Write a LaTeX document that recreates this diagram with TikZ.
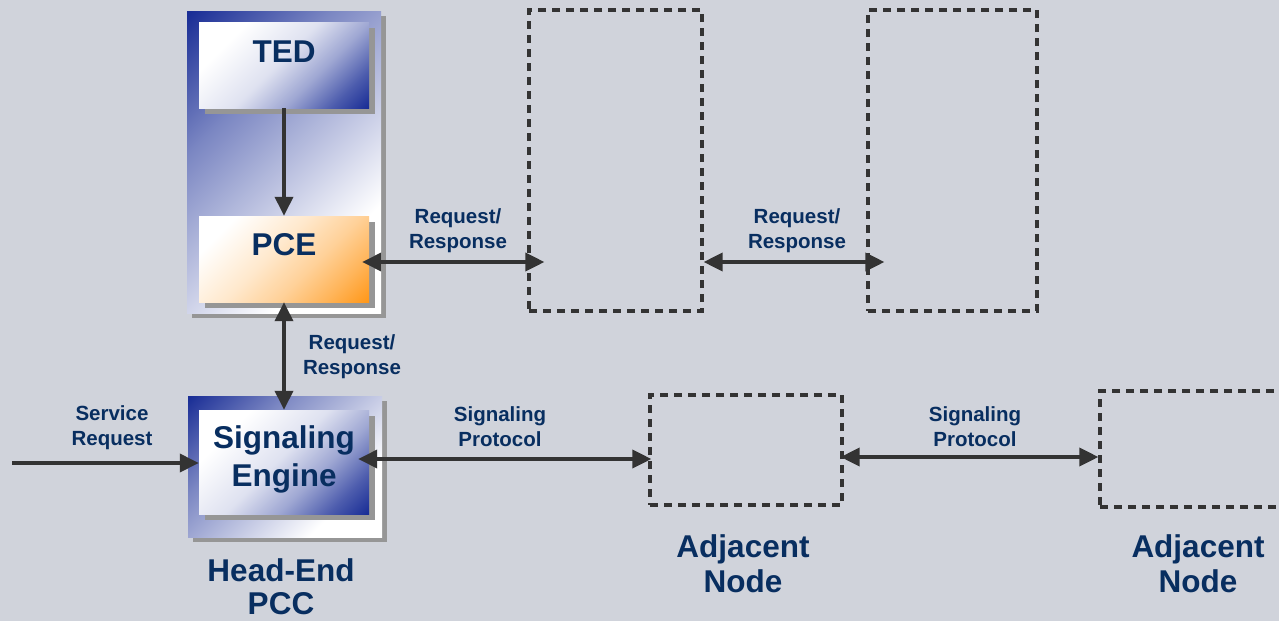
\documentclass[tikz,border=0pt]{standalone}
\usepackage{fontspec}
\setmainfont{Liberation Sans}
\usetikzlibrary{arrows.meta,shadows}

\definecolor{bgcol}{RGB}{208,211,219}
\definecolor{deepblue}{RGB}{26,46,150}
\definecolor{pceorange}{RGB}{255,152,26}
\definecolor{inkblue}{RGB}{8,46,96}
\definecolor{linecol}{RGB}{51,51,51}
\definecolor{shadowgray}{RGB}{150,150,150}

% diagonal fills: the picture box spans roughly 15bp..85bp of each shading
\pgfdeclarehorizontalshading{frameshade}{100bp}{%
  color(0bp)=(deepblue); color(15bp)=(deepblue); color(35bp)=(deepblue!58!white);
  color(55bp)=(deepblue!25!white); color(70bp)=(white); color(100bp)=(white)}
\pgfdeclarehorizontalshading{coreshade}{100bp}{%
  color(0bp)=(white); color(28bp)=(white); color(48bp)=(deepblue!14!white);
  color(62bp)=(deepblue!42!white); color(75bp)=(deepblue!78!white);
  color(85bp)=(deepblue); color(100bp)=(deepblue)}
\pgfdeclarehorizontalshading{pceshade}{100bp}{%
  color(0bp)=(white); color(25bp)=(white); color(45bp)=(pceorange!22!white);
  color(60bp)=(pceorange!45!white); color(73bp)=(pceorange!72!white);
  color(85bp)=(pceorange); color(100bp)=(pceorange)}

\begin{document}
\begin{tikzpicture}[x=1pt,y=-1pt,
  shadowed/.style={drop shadow={shadow xshift=#1,shadow yshift=-#1,fill=shadowgray,opacity=1}},
  outerbox/.style={rectangle,inner sep=0pt,minimum width=194pt,
    shading=frameshade,shading angle=-45,shadowed=5pt},
  bluebox/.style={rectangle,inner sep=0pt,minimum width=170pt,
    shading=coreshade,shading angle=-45,shadowed=6pt},
  orangebox/.style={rectangle,inner sep=0pt,minimum width=170pt,minimum height=86pt,
    shading=pceshade,shading angle=-45,shadowed=6pt},
  ghost/.style={rectangle,inner sep=0pt,draw=linecol,line width=3.2pt,
    dash pattern=on 8pt off 6pt},
  bigtxt/.style={text=inkblue,align=center,inner sep=0pt,
    font=\fontsize{31.5}{35}\selectfont\bfseries},
  smalltxt/.style={text=inkblue,align=center,inner sep=0pt,
    font=\fontsize{20.5}{25}\selectfont\bfseries},
  conn/.style={draw=linecol,line width=3.6pt,-{Triangle[length=19pt,width=18pt]}},
  biconn/.style={draw=linecol,line width=3.6pt,
    {Triangle[length=19pt,width=18pt]}-{Triangle[length=19pt,width=18pt]}}]

% canvas
\fill[bgcol] (0,0) rectangle (1279,621);
\useasboundingbox (0,0) rectangle (1279,621);

% head-end PCC: upper part with TED and PCE
\node[outerbox,minimum height=302pt] (pcctop) at (284,162) {};
\node[bluebox,minimum height=86pt] (ted) at (284,65) {};
\node[bigtxt] (tedtxt) at (284,52) {TED};
\node[orangebox] (pce) at (284,259) {};
\node[bigtxt] (pcetxt) at (284,245) {PCE};

% head-end PCC: lower part with the signaling engine
\node[outerbox,minimum height=141pt] (pccbot) at (285,466.5) {};
\node[bluebox,minimum height=104pt] (se) at (284,462) {};
\node[bigtxt,font=\fontsize{31.5}{38}\selectfont\bfseries] (setxt) at (284,459) {Signaling\\Engine};
\node[bigtxt,font=\fontsize{31.5}{33}\selectfont\bfseries] (pcclbl) at (281,587) {Head-End\\PCC};

% downstream elements
\node[ghost,minimum width=173pt,minimum height=301pt] (d1) at (615.5,160.5) {};
\node[ghost,minimum width=169pt,minimum height=301pt] (d2) at (952.5,160.5) {};
\node[ghost,minimum width=192pt,minimum height=110pt] (d3) at (746,450) {};
\node[ghost,minimum width=190pt,minimum height=116pt] (d4) at (1195,449) {};
\node[bigtxt] (d3lbl) at (743,563.5) {Adjacent\\Node};
\node[bigtxt] (d4lbl) at (1198,563.5) {Adjacent\\Node};

% connectors
\coordinate (src) at (12,463);
\draw[conn] (src) -- (src -| se.west);
\draw[conn] (ted.south) -- (pce.north);
\draw[biconn] (pce.south) -- (se.north);
\draw[biconn,shorten <=-7pt,shorten >=-17pt] ([yshift=-3pt]pce.east) -- ([yshift=-3pt]pce.east -| d1.west);
\draw[biconn,shorten >=-18pt] ([yshift=-3pt]pce.east -| d1.east) -- ([yshift=-3pt]pce.east -| d2.west);
\draw[biconn,shorten <=-11pt,shorten >=-3pt] ([yshift=3pt]se.east) -- ([yshift=3pt]se.east -| d3.west);
\draw[biconn,shorten <=-3pt] ([yshift=5pt]se.east -| d3.east) -- ([yshift=5pt]se.east -| d4.west);

% connector labels
\node[smalltxt] (rr1) at (458,231) {Request/\\Response};
\node[smalltxt] (rr2) at (797,231) {Request/\\Response};
\node[smalltxt] (rr3) at (352,357) {Request/\\Response};
\node[smalltxt] (sp1) at (500,427) {Signaling\\Protocol};
\node[smalltxt] (sp2) at (975,427) {Signaling\\Protocol};
\node[smalltxt] (svc) at (112,428) {Service\\Request};
\end{tikzpicture}
\end{document}
